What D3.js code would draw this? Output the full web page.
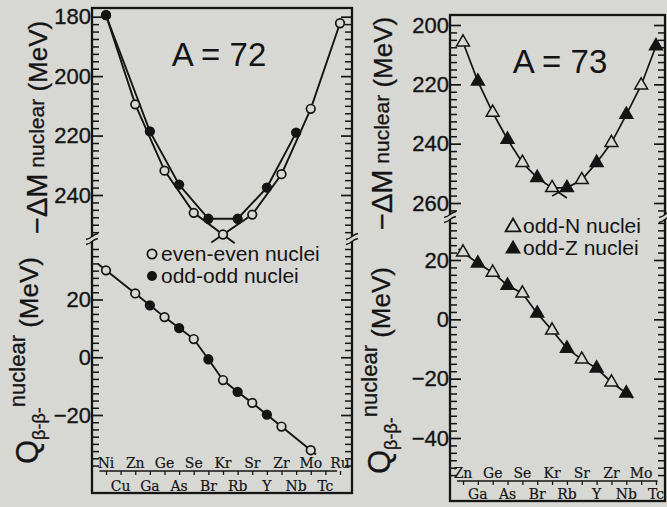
<!DOCTYPE html>
<html><head><meta charset="utf-8">
<script src="https://cdn.jsdelivr.net/npm/d3@7"></script>
<style>
html,body{margin:0;padding:0;background:#d7d7d3;}
svg{display:block;}
text{font-family:"Liberation Sans",Arial,Helvetica,sans-serif;fill:#141414;}
.el{font-family:"DejaVu Serif Condensed","DejaVu Serif",serif;}
</style></head><body>
<script>
// ---------------- DATA ----------------
const elementSymbols = ["Ni","Cu","Zn","Ga","Ge","As","Se","Br","Kr","Rb","Sr","Y","Zr","Nb","Mo","Tc","Ru"]; // Z = 28 .. 44
const firstZ = 28;

// A = 72 : -ΔM nuclear (MeV)
const a72EvenEvenZ = [28, 30, 32, 34, 36, 38, 40, 42, 44];
const a72EvenEvenM = [179.5, 209.5, 231.8, 246.0, 253.3, 246.6, 233.0, 211.0, 182.2];
const a72OddOddZ   = [28, 31, 33, 35, 37, 39, 41];
const a72OddOddM   = [179.5, 218.6, 236.5, 248.0, 248.0, 237.5, 219.0];
// A = 72 : Q beta-beta nuclear (MeV)
const a72QZ = [28, 30, 31, 32, 33, 34, 35, 36, 37, 38, 39, 40, 42];
const a72Q  = [30.1, 22.1, 18.0, 13.9, 10.1, 6.3, -0.7, -7.9, -12.0, -15.8, -19.9, -24.0, -32.2];

// A = 73 : -ΔM nuclear (MeV)  (even Z = odd-N, odd Z = odd-Z)
const a73Z = [30, 31, 32, 33, 34, 35, 36, 37, 38, 39, 40, 41, 42, 43];
const a73M = [205.8, 219.0, 229.5, 238.6, 246.4, 251.5, 254.9, 254.9, 252.2, 246.4, 239.7, 230.2, 220.3, 207.1];
// A = 73 : Q beta-beta nuclear (MeV)
const a73QZ = [30, 31, 32, 33, 34, 35, 36, 37, 38, 39, 40, 41];
const a73Q  = [22.6, 18.9, 15.8, 11.4, 8.8, 2.0, -3.7, -9.8, -13.5, -16.5, -21.2, -24.9];

// tick labels
const a72MassTicks = [180, 200, 220, 240];
const a72QTicks    = [20, 0, -20];
const a73MassTicks = [200, 220, 240, 260];
const a73QTicks    = [20, 0, -20, -40];
const a72LabelZ = [28, 29, 30, 31, 32, 33, 34, 35, 36, 37, 38, 39, 40, 41, 42, 43, 44];
const a73LabelZ = [30, 31, 32, 33, 34, 35, 36, 37, 38, 39, 40, 41, 42, 43];

// ---------------- DRAW ----------------
const BG = "#d7d7d3", INK = "#141414";
const svg = d3.select("body").append("svg").attr("width", 667).attr("height", 507);
svg.append("rect").attr("width", 667).attr("height", 507).attr("fill", BG);

const pts = (zs, vs) => zs.map((z, i) => ({z, v: vs[i]}));
const sym = z => elementSymbols[z - firstZ];

function extendSeg(a, b, f) { return {z: b.z + f * (b.z - a.z), v: b.v + f * (b.v - a.v)}; }

function panel(c) {
  const g = svg.append("g");
  const x = c.x, yM = c.yM, yQ = c.yQ;
  const line = y => d3.line().x(d => x(d.z)).y(d => y(d.v));

  function yTicks(y, yTop, yBot, majors) {
    const lo = Math.min(y.invert(yTop), y.invert(yBot)), hi = Math.max(y.invert(yTop), y.invert(yBot));
    const minors = d3.range(Math.ceil(lo / 2.5) * 2.5, hi + 0.001, 2.5).filter(v => majors.indexOf(v) < 0);
    g.append("g").attr("transform", `translate(${c.x0},0)`)
      .call(d3.axisRight(y).tickValues(minors).tickSize(7).tickFormat(""))
      .call(a => { a.select(".domain").remove(); a.selectAll("line").attr("stroke", INK).attr("stroke-width", 1.5); });
    g.append("g").attr("transform", `translate(${c.x0},0)`)
      .call(d3.axisLeft(y).tickValues(majors).tickSizeInner(-11).tickSizeOuter(0).tickPadding(1))
      .call(a => { a.select(".domain").remove();
                   a.selectAll("line").attr("stroke", INK).attr("stroke-width", 1.7);
                   a.selectAll("text").attr("font-size", 22).attr("fill", INK)
                     .attr("stroke", INK).attr("stroke-width", 0.35)
                     .attr("font-family", '"Liberation Sans",Arial,sans-serif'); });
    g.append("g").attr("transform", `translate(${c.x1},0)`)
      .call(d3.axisLeft(y).tickValues(minors).tickSize(7).tickFormat(""))
      .call(a => { a.select(".domain").remove(); a.selectAll("line").attr("stroke", INK).attr("stroke-width", 1.5); });
    g.append("g").attr("transform", `translate(${c.x1},0)`)
      .call(d3.axisLeft(y).tickValues(majors).tickSize(11).tickFormat(""))
      .call(a => { a.select(".domain").remove(); a.selectAll("line").attr("stroke", INK).attr("stroke-width", 1.7); });
  }
  yTicks(yM, c.y0 + 3, c.brk - 3, c.massTicks);
  yTicks(yQ, c.brk + 3, c.axisY - 4, c.qTicks);

  g.append("rect").attr("x", c.x0).attr("y", c.y0).attr("width", c.x1 - c.x0).attr("height", c.y1 - c.y0)
    .attr("fill", "none").attr("stroke", INK).attr("stroke-width", 2.3);

  [c.x0, c.x1].forEach(ex => {
    g.append("rect").attr("x", ex - 2).attr("y", c.brk - 2).attr("width", 4).attr("height", 4).attr("fill", BG);
    [-2.5, 2.5].forEach(o => g.append("path")
      .attr("d", `M${ex - 6},${c.brk + o + 3} q4,-1 6,-3 q2,-2 6,-3`)
      .attr("fill", "none").attr("stroke", INK).attr("stroke-width", 1.3));
  });

  const ax = g.append("g").attr("transform", `translate(0,${c.axisY})`)
    .call(d3.axisBottom(x).tickValues(c.labelZ).tickSize(4).tickFormat(""));
  ax.select(".domain").remove();
  ax.selectAll("line").attr("stroke", INK).attr("stroke-width", 1.3);
  g.append("line").attr("x1", x(c.axisFrom)).attr("x2", x(c.axisTo)).attr("y1", c.axisY).attr("y2", c.axisY)
    .attr("stroke", INK).attr("stroke-width", 1.7);
  g.selectAll("text.el").data(c.labelZ).join("text").attr("class", "el")
    .attr("x", z => x(z)).attr("y", z => z % 2 === 0 ? c.axisY - 3 : c.y1 - 2.5)
    .attr("text-anchor", "middle").attr("font-size", 15.5).attr("fill", INK)
    .attr("stroke", INK).attr("stroke-width", 0.2).text(sym);

  g.append("text").attr("x", c.titleX).attr("y", c.titleY).attr("text-anchor", "middle")
    .attr("font-size", 33).text(c.title);

  const t1 = g.append("text").attr("transform", `translate(${c.t1x},${c.t1y}) rotate(-90)`).attr("text-anchor", "start")
    .attr("stroke", INK).attr("stroke-width", 0.3);
  t1.append("tspan").attr("font-size", 29).text("\u2212\u0394M");
  t1.append("tspan").attr("font-size", 21).attr("dy", -3).text(" nuclear");
  t1.append("tspan").attr("font-size", 26).attr("dy", 3).text("  (MeV)");
  const t2 = g.append("text").attr("transform", `translate(${c.t2x},${c.t2y}) rotate(-90)`).attr("text-anchor", "start")
    .attr("stroke", INK).attr("stroke-width", 0.3);
  t2.append("tspan").attr("font-size", 31).text("Q");
  t2.append("tspan").attr("font-size", 18).attr("dy", 7).text("\u03B2-\u03B2-");
  t2.append("tspan").attr("font-size", 22).attr("dy", -20).text("nuclear");
  t2.append("tspan").attr("font-size", 26).attr("dy", 13).text("  (MeV)");

  c.draw(g, x, yM, yQ, line);
}

function circles(g, data, x, y, filled) {
  g.selectAll(null).data(data).join("circle")
    .attr("cx", d => x(d.z)).attr("cy", d => y(d.v)).attr("r", 4.3)
    .attr("fill", filled ? INK : BG).attr("stroke", INK).attr("stroke-width", 1.7);
}
function triangles(g, data, x, y, filled) {
  g.selectAll(null).data(data).join("path")
    .attr("transform", d => `translate(${x(d.z)},${y(d.v)})`)
    .attr("d", d3.symbol(d3.symbolTriangle, 72))
    .attr("fill", filled ? INK : BG).attr("stroke", INK).attr("stroke-width", 1.5);
}
function pathOf(g, d, w) {
  g.append("path").attr("d", d).attr("fill", "none").attr("stroke", INK).attr("stroke-width", w || 1.9);
}

// ---------- Panel A = 72 ----------
panel({
  x0: 92, x1: 352, y0: 8, y1: 493, brk: 239, axisY: 471,
  x: d3.scaleLinear().domain([28, 44]).range([106, 340]),
  yM: d3.scaleLinear().domain([180, 240]).range([16.7, 195]),
  yQ: d3.scaleLinear().domain([20, -20]).range([299.5, 415]),
  massTicks: a72MassTicks, qTicks: a72QTicks, labelZ: a72LabelZ, axisFrom: 27.55, axisTo: 43.8,
  title: "A = 72", titleX: 219, titleY: 66,
  t1x: 47, t1y: 234, t2x: 38, t2y: 464,
  draw(g, x, yM, yQ, line) {
    const ee = pts(a72EvenEvenZ, a72EvenEvenM), oo = pts(a72OddOddZ, a72OddOddM);
    pathOf(g, line(yM)(ee));
    pathOf(g, line(yM)(oo));
    const iMin = d3.maxIndex(ee, d => d.v);
    pathOf(g, line(yM)([ee[iMin], extendSeg(ee[iMin - 1], ee[iMin], 0.4)]));
    pathOf(g, line(yM)([ee[iMin], extendSeg(ee[iMin + 1], ee[iMin], 0.4)]));
    const q = pts(a72QZ, a72Q);
    pathOf(g, line(yQ)([extendSeg(q[1], q[0], 0.27), ...q, extendSeg(q[q.length - 2], q[q.length - 1], 0.18)]));
    circles(g, ee, x, yM, false);
    circles(g, oo, x, yM, true);
    circles(g, q.filter(d => d.z % 2 === 0), x, yQ, false);
    circles(g, q.filter(d => d.z % 2 === 1), x, yQ, true);
    g.append("circle").attr("cx", 152).attr("cy", 254).attr("r", 4.6).attr("fill", BG).attr("stroke", INK).attr("stroke-width", 1.8);
    g.append("circle").attr("cx", 152).attr("cy", 276).attr("r", 5).attr("fill", INK);
    g.append("text").attr("x", 161).attr("y", 261).attr("font-size", 21).text("even-even nuclei");
    g.append("text").attr("x", 161).attr("y", 283).attr("font-size", 21).text("odd-odd nuclei");
  }
});

// ---------- Panel A = 73 ----------
panel({
  x0: 450, x1: 665, y0: 15, y1: 501, brk: 217, axisY: 481,
  x: d3.scaleLinear().domain([30, 43]).range([463, 656]),
  yM: d3.scaleLinear().domain([200, 260]).range([25, 203]),
  yQ: d3.scaleLinear().domain([20, -40]).range([260, 438]),
  massTicks: a73MassTicks, qTicks: a73QTicks, labelZ: a73LabelZ, axisFrom: 29.6, axisTo: 43.1,
  title: "A = 73", titleX: 560, titleY: 73,
  t1x: 392, t1y: 230, t2x: 390, t2y: 474,
  draw(g, x, yM, yQ, line) {
    const m = pts(a73Z, a73M);
    pathOf(g, line(yM)(m), 1.7);
    const lows = d3.range(m.length).sort((a, b) => m[b].v - m[a].v).slice(0, 2).sort((a, b) => a - b);
    pathOf(g, line(yM)([m[lows[0]], extendSeg(m[lows[0] - 1], m[lows[0]], 1)]), 1.7);
    pathOf(g, line(yM)([m[lows[1]], extendSeg(m[lows[1] + 1], m[lows[1]], 1)]), 1.7);
    const q = pts(a73QZ, a73Q);
    pathOf(g, line(yQ)([extendSeg(q[1], q[0], 0.3), ...q, extendSeg(q[q.length - 2], q[q.length - 1], 0.45)]), 1.7);
    triangles(g, m.filter(d => d.z % 2 === 0), x, yM, false);
    triangles(g, m.filter(d => d.z % 2 === 1), x, yM, true);
    triangles(g, q.filter(d => d.z % 2 === 0), x, yQ, false);
    triangles(g, q.filter(d => d.z % 2 === 1), x, yQ, true);
    g.append("path").attr("transform", "translate(513,227)").attr("d", d3.symbol(d3.symbolTriangle, 95))
      .attr("fill", BG).attr("stroke", INK).attr("stroke-width", 1.8);
    g.append("path").attr("transform", "translate(513,249)").attr("d", d3.symbol(d3.symbolTriangle, 110)).attr("fill", INK);
    g.append("text").attr("x", 523).attr("y", 233).attr("font-size", 21).text("odd-N nuclei");
    g.append("text").attr("x", 523).attr("y", 255).attr("font-size", 21).text("odd-Z nuclei");
  }
});
</script>
</body></html>
